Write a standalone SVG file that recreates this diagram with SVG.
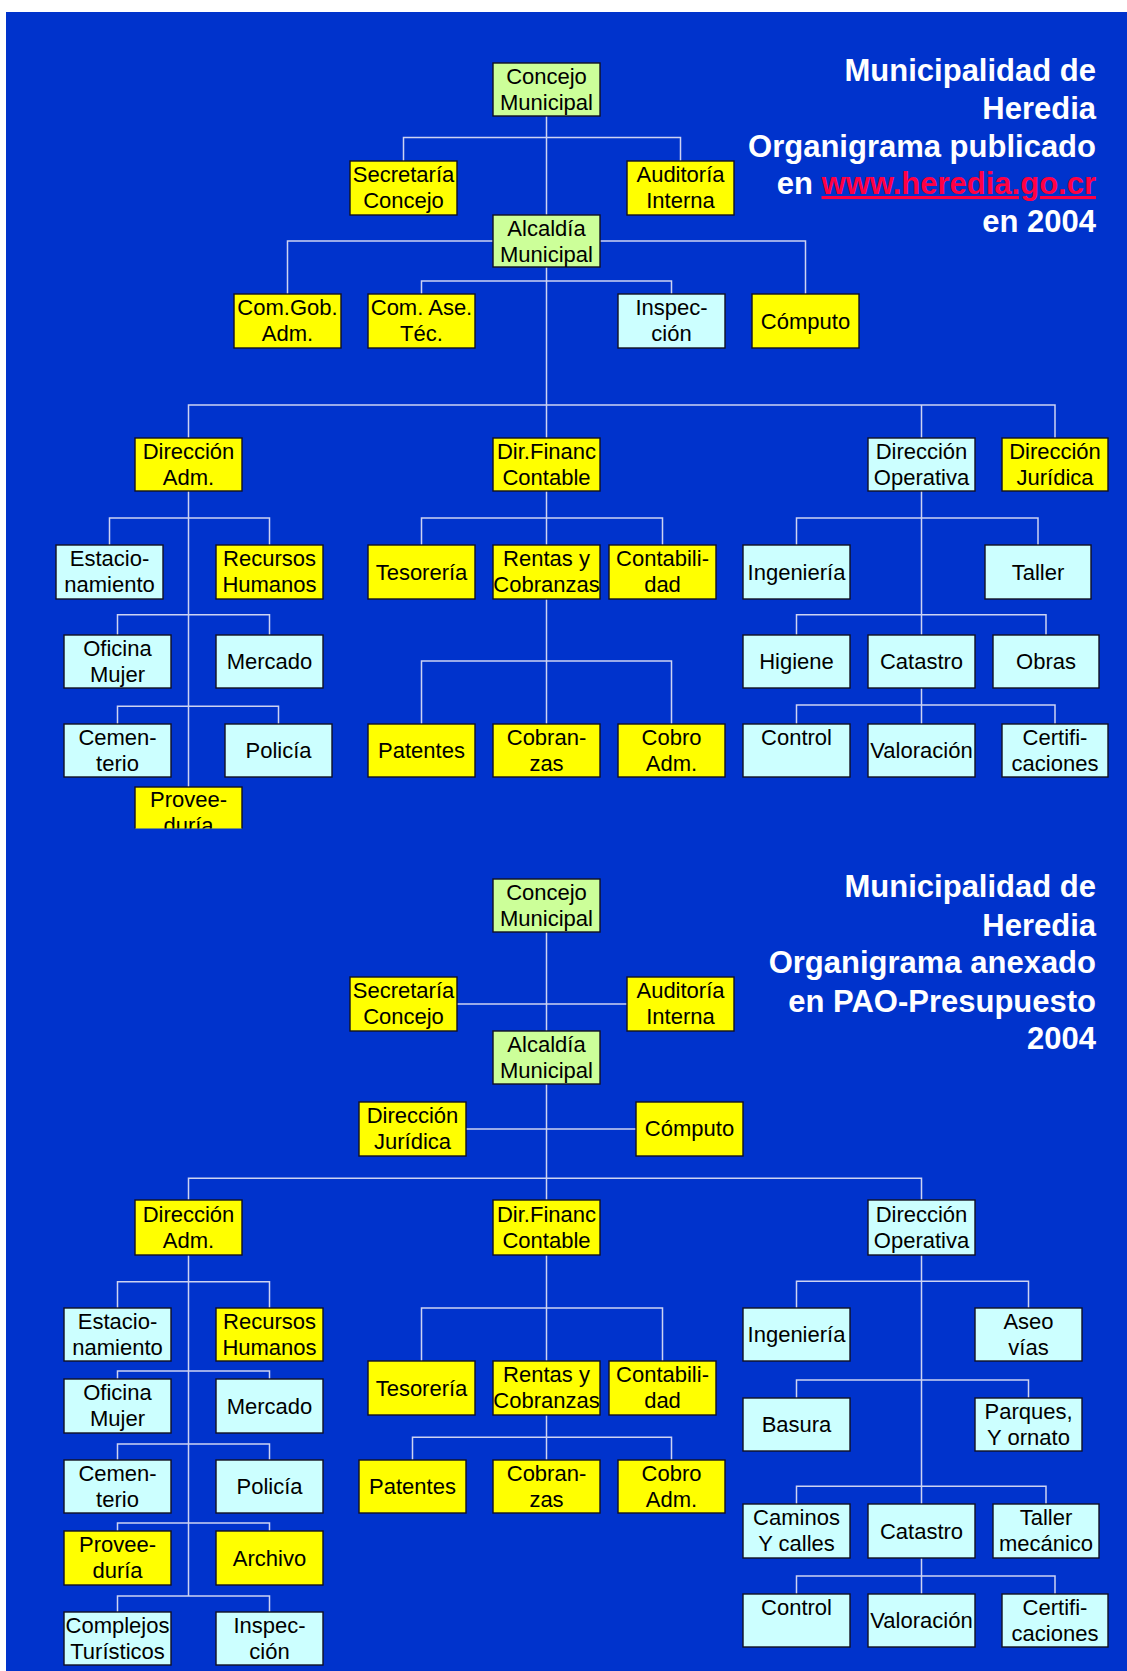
<svg xmlns="http://www.w3.org/2000/svg" width="1127" height="1671" viewBox="0 0 1127 1671">
<style>
.n rect{stroke:#111122;stroke-width:1.4}
.y rect{fill:#FFFF00}
.g rect{fill:#CCFF99}
.c rect{fill:#CCFFFF}
.n text{font-family:"Liberation Sans",Arial,sans-serif;font-size:22px;text-anchor:middle;fill:#000}
#connectors path{fill:none;stroke:#CDD3F2;stroke-width:1.5}
.title{font-family:"Liberation Sans",Arial,sans-serif;font-weight:bold;font-size:31px;text-anchor:end;fill:#FFFFFF}
</style>
<defs>
<clipPath id="clipProv"><rect x="0" y="0" width="1127" height="828.5"/></clipPath>
</defs>
<rect x="0" y="0" width="1127" height="1671" fill="#FFFFFF"/>
<rect x="6" y="12" width="1121" height="1659" fill="#0033CC"/>

<g id="connectors">
<!-- top chart -->
<path d="M546.5 116 V438"/>
<path d="M403.5 161 V137.5 H680.5 V161"/>
<path d="M287.5 294 V241 H805.5 V294"/>
<path d="M421.5 294 V281 H671.5 V294"/>
<path d="M188.5 438 V405 H1055 V438"/>
<path d="M921.5 405 V438"/>
<path d="M188.5 491 V787"/>
<path d="M109.5 545 V518 H269.5 V545"/>
<path d="M117.5 635 V614.7 H269.5 V635"/>
<path d="M117.5 724 V706.3 H278.5 V724"/>
<path d="M546.5 491 V724"/>
<path d="M421.5 545 V518 H662.5 V545"/>
<path d="M421.5 724 V661 H671.5 V724"/>
<path d="M921.5 491 V724"/>
<path d="M796.5 545 V518 H1038 V545"/>
<path d="M796.5 635 V614.7 H1046 V635"/>
<path d="M796.5 724 V705 H1055 V724"/>
<!-- bottom chart -->
<path d="M546.5 932 V1200"/>
<path d="M457 1004 H627"/>
<path d="M466 1129 H636"/>
<path d="M188.5 1200 V1178.3 H921.5 V1200"/>
<path d="M188.5 1255 V1596"/>
<path d="M117.5 1308 V1281.7 H269.5 V1308"/>
<path d="M117.5 1379 V1371 H269.5 V1379"/>
<path d="M117.5 1460 V1444 H269.5 V1460"/>
<path d="M117.5 1531 V1523 H269.5 V1531"/>
<path d="M117.5 1612 V1596 H269.5 V1612"/>
<path d="M546.5 1255 V1460"/>
<path d="M421.5 1361 V1308 H662.5 V1361"/>
<path d="M412.5 1460 V1437.3 H671.5 V1460"/>
<path d="M921.5 1255 V1594"/>
<path d="M796.5 1308 V1281.3 H1028.5 V1308"/>
<path d="M796.5 1398 V1380 H1028.5 V1398"/>
<path d="M796.5 1504 V1486.3 H1046 V1504"/>
<path d="M796.5 1594 V1576 H1055 V1594"/>
</g>

<!-- Titles -->
<g id="title1">
<text class="title" x="1096" y="81">Municipalidad de</text>
<text class="title" x="1096" y="119">Heredia</text>
<text class="title" x="1096" y="157">Organigrama publicado</text>
<text class="title" x="1096" y="194">en <tspan fill="#FF0044" text-decoration="underline">www.heredia.go.cr</tspan></text>
<text class="title" x="1096" y="232">en 2004</text>
</g>
<g id="title2">
<text class="title" x="1096" y="897">Municipalidad de</text>
<text class="title" x="1096" y="936">Heredia</text>
<text class="title" x="1096" y="973">Organigrama anexado</text>
<text class="title" x="1096" y="1012">en PAO-Presupuesto</text>
<text class="title" x="1096" y="1049">2004</text>
</g>

<!-- TOP CHART NODES -->
<g id="concejo1" class="n g"><rect x="493" y="63" width="107" height="53"/><text x="546.5" y="84">Concejo<tspan x="546.5" dy="26">Municipal</tspan></text></g>
<g id="secretaria1" class="n y"><rect x="350" y="161" width="107" height="54"/><text x="403.5" y="182">Secretaría<tspan x="403.5" dy="26">Concejo</tspan></text></g>
<g id="auditoria1" class="n y"><rect x="627" y="161" width="107" height="54"/><text x="680.5" y="182">Auditoría<tspan x="680.5" dy="26">Interna</tspan></text></g>
<g id="alcaldia1" class="n g"><rect x="493" y="215" width="107" height="52"/><text x="546.5" y="236">Alcaldía<tspan x="546.5" dy="26">Municipal</tspan></text></g>
<g id="comgob1" class="n y"><rect x="234" y="294" width="107" height="54"/><text x="287.5" y="315">Com.Gob.<tspan x="287.5" dy="26">Adm.</tspan></text></g>
<g id="comase1" class="n y"><rect x="368" y="294" width="107" height="54"/><text x="421.5" y="315">Com. Ase.<tspan x="421.5" dy="26">Téc.</tspan></text></g>
<g id="inspeccion1" class="n c"><rect x="618" y="294" width="107" height="54"/><text x="671.5" y="315">Inspec-<tspan x="671.5" dy="26">ción</tspan></text></g>
<g id="computo1" class="n y"><rect x="752" y="294" width="107" height="54"/><text x="805.5" y="328.5">Cómputo</text></g>

<g id="diradm1" class="n y"><rect x="135" y="438" width="107" height="53"/><text x="188.5" y="459">Dirección<tspan x="188.5" dy="26">Adm.</tspan></text></g>
<g id="dirfin1" class="n y"><rect x="493" y="438" width="107" height="53"/><text x="546.5" y="459">Dir.Financ<tspan x="546.5" dy="26">Contable</tspan></text></g>
<g id="dirop1" class="n c"><rect x="868" y="438" width="107" height="53"/><text x="921.5" y="459">Dirección<tspan x="921.5" dy="26">Operativa</tspan></text></g>
<g id="dirjur1" class="n y"><rect x="1002" y="438" width="106" height="53"/><text x="1055" y="459">Dirección<tspan x="1055" dy="26">Jurídica</tspan></text></g>

<g id="estac1" class="n c"><rect x="56" y="545" width="107" height="54"/><text x="109.5" y="566">Estacio-<tspan x="109.5" dy="26">namiento</tspan></text></g>
<g id="rrhh1" class="n y"><rect x="216" y="545" width="107" height="54"/><text x="269.5" y="566">Recursos<tspan x="269.5" dy="26">Humanos</tspan></text></g>
<g id="ofmujer1" class="n c"><rect x="64" y="635" width="107" height="53"/><text x="117.5" y="656">Oficina<tspan x="117.5" dy="26">Mujer</tspan></text></g>
<g id="mercado1" class="n c"><rect x="216" y="635" width="107" height="53"/><text x="269.5" y="669">Mercado</text></g>
<g id="cement1" class="n c"><rect x="64" y="724" width="107" height="53"/><text x="117.5" y="745">Cemen-<tspan x="117.5" dy="26">terio</tspan></text></g>
<g id="policia1" class="n c"><rect x="225" y="724" width="107" height="53"/><text x="278.5" y="758">Policía</text></g>
<g id="proveed1" class="n y" clip-path="url(#clipProv)"><rect x="135" y="787" width="107" height="53"/><text x="188.5" y="807">Provee-<tspan x="188.5" dy="26">duría</tspan></text></g>

<g id="tesoreria1" class="n y"><rect x="368" y="545" width="107" height="54"/><text x="421.5" y="579.5">Tesorería</text></g>
<g id="rentas1" class="n y"><rect x="493" y="545" width="107" height="54"/><text x="546.5" y="566">Rentas y<tspan x="546.5" dy="26">Cobranzas</tspan></text></g>
<g id="contab1" class="n y"><rect x="609" y="545" width="107" height="54"/><text x="662.5" y="566">Contabili-<tspan x="662.5" dy="26">dad</tspan></text></g>
<g id="patentes1" class="n y"><rect x="368" y="724" width="107" height="53"/><text x="421.5" y="758">Patentes</text></g>
<g id="cobranzas1" class="n y"><rect x="493" y="724" width="107" height="53"/><text x="546.5" y="745">Cobran-<tspan x="546.5" dy="26">zas</tspan></text></g>
<g id="cobroadm1" class="n y"><rect x="618" y="724" width="107" height="53"/><text x="671.5" y="745">Cobro<tspan x="671.5" dy="26">Adm.</tspan></text></g>

<g id="ingenieria1" class="n c"><rect x="743" y="545" width="107" height="54"/><text x="796.5" y="579.5">Ingeniería</text></g>
<g id="taller1" class="n c"><rect x="985" y="545" width="106" height="54"/><text x="1038" y="579.5">Taller</text></g>
<g id="higiene1" class="n c"><rect x="743" y="635" width="107" height="53"/><text x="796.5" y="669">Higiene</text></g>
<g id="catastro1" class="n c"><rect x="868" y="635" width="107" height="53"/><text x="921.5" y="669">Catastro</text></g>
<g id="obras1" class="n c"><rect x="993" y="635" width="106" height="53"/><text x="1046" y="669">Obras</text></g>
<g id="control1" class="n c"><rect x="743" y="724" width="107" height="53"/><text x="796.5" y="745">Control</text></g>
<g id="valoracion1" class="n c"><rect x="868" y="724" width="107" height="53"/><text x="921.5" y="758">Valoración</text></g>
<g id="certif1" class="n c"><rect x="1002" y="724" width="106" height="53"/><text x="1055" y="745">Certifi-<tspan x="1055" dy="26">caciones</tspan></text></g>

<!-- BOTTOM CHART NODES -->
<g id="concejo2" class="n g"><rect x="493" y="879" width="107" height="53"/><text x="546.5" y="900">Concejo<tspan x="546.5" dy="26">Municipal</tspan></text></g>
<g id="secretaria2" class="n y"><rect x="350" y="977" width="107" height="54"/><text x="403.5" y="998">Secretaría<tspan x="403.5" dy="26">Concejo</tspan></text></g>
<g id="auditoria2" class="n y"><rect x="627" y="977" width="107" height="54"/><text x="680.5" y="998">Auditoría<tspan x="680.5" dy="26">Interna</tspan></text></g>
<g id="alcaldia2" class="n g"><rect x="493" y="1031" width="107" height="53"/><text x="546.5" y="1052">Alcaldía<tspan x="546.5" dy="26">Municipal</tspan></text></g>
<g id="dirjur2" class="n y"><rect x="359" y="1102" width="107" height="54"/><text x="412.5" y="1123">Dirección<tspan x="412.5" dy="26">Jurídica</tspan></text></g>
<g id="computo2" class="n y"><rect x="636" y="1102" width="107" height="54"/><text x="689.5" y="1136">Cómputo</text></g>

<g id="diradm2" class="n y"><rect x="135" y="1200" width="107" height="55"/><text x="188.5" y="1222">Dirección<tspan x="188.5" dy="26">Adm.</tspan></text></g>
<g id="dirfin2" class="n y"><rect x="493" y="1200" width="107" height="55"/><text x="546.5" y="1222">Dir.Financ<tspan x="546.5" dy="26">Contable</tspan></text></g>
<g id="dirop2" class="n c"><rect x="868" y="1200" width="107" height="55"/><text x="921.5" y="1222">Dirección<tspan x="921.5" dy="26">Operativa</tspan></text></g>

<g id="estac2" class="n c"><rect x="64" y="1308" width="107" height="53"/><text x="117.5" y="1329">Estacio-<tspan x="117.5" dy="26">namiento</tspan></text></g>
<g id="rrhh2" class="n y"><rect x="216" y="1308" width="107" height="53"/><text x="269.5" y="1329">Recursos<tspan x="269.5" dy="26">Humanos</tspan></text></g>
<g id="ofmujer2" class="n c"><rect x="64" y="1379" width="107" height="54"/><text x="117.5" y="1400">Oficina<tspan x="117.5" dy="26">Mujer</tspan></text></g>
<g id="mercado2" class="n c"><rect x="216" y="1379" width="107" height="54"/><text x="269.5" y="1413.5">Mercado</text></g>
<g id="cement2" class="n c"><rect x="64" y="1460" width="107" height="53"/><text x="117.5" y="1481">Cemen-<tspan x="117.5" dy="26">terio</tspan></text></g>
<g id="policia2" class="n c"><rect x="216" y="1460" width="107" height="53"/><text x="269.5" y="1494">Policía</text></g>
<g id="proveed2" class="n y"><rect x="64" y="1531" width="107" height="54"/><text x="117.5" y="1552">Provee-<tspan x="117.5" dy="26">duría</tspan></text></g>
<g id="archivo2" class="n y"><rect x="216" y="1531" width="107" height="54"/><text x="269.5" y="1565.5">Archivo</text></g>
<g id="complejos2" class="n c"><rect x="64" y="1612" width="107" height="53"/><text x="117.5" y="1633">Complejos<tspan x="117.5" dy="26">Turísticos</tspan></text></g>
<g id="inspeccion2" class="n c"><rect x="216" y="1612" width="107" height="53"/><text x="269.5" y="1633">Inspec-<tspan x="269.5" dy="26">ción</tspan></text></g>

<g id="tesoreria2" class="n y"><rect x="368" y="1361" width="107" height="54"/><text x="421.5" y="1395.5">Tesorería</text></g>
<g id="rentas2" class="n y"><rect x="493" y="1361" width="107" height="54"/><text x="546.5" y="1382">Rentas y<tspan x="546.5" dy="26">Cobranzas</tspan></text></g>
<g id="contab2" class="n y"><rect x="609" y="1361" width="107" height="54"/><text x="662.5" y="1382">Contabili-<tspan x="662.5" dy="26">dad</tspan></text></g>
<g id="patentes2" class="n y"><rect x="359" y="1460" width="107" height="53"/><text x="412.5" y="1494">Patentes</text></g>
<g id="cobranzas2" class="n y"><rect x="493" y="1460" width="107" height="53"/><text x="546.5" y="1481">Cobran-<tspan x="546.5" dy="26">zas</tspan></text></g>
<g id="cobroadm2" class="n y"><rect x="618" y="1460" width="107" height="53"/><text x="671.5" y="1481">Cobro<tspan x="671.5" dy="26">Adm.</tspan></text></g>

<g id="ingenieria2" class="n c"><rect x="743" y="1308" width="107" height="53"/><text x="796.5" y="1342">Ingeniería</text></g>
<g id="aseo2" class="n c"><rect x="975" y="1308" width="107" height="53"/><text x="1028.5" y="1329">Aseo<tspan x="1028.5" dy="26">vías</tspan></text></g>
<g id="basura2" class="n c"><rect x="743" y="1398" width="107" height="53"/><text x="796.5" y="1432">Basura</text></g>
<g id="parques2" class="n c"><rect x="975" y="1398" width="107" height="53"/><text x="1028.5" y="1419">Parques,<tspan x="1028.5" dy="26">Y ornato</tspan></text></g>
<g id="caminos2" class="n c"><rect x="743" y="1504" width="107" height="54"/><text x="796.5" y="1525">Caminos<tspan x="796.5" dy="26">Y calles</tspan></text></g>
<g id="catastro2" class="n c"><rect x="868" y="1504" width="107" height="54"/><text x="921.5" y="1538.5">Catastro</text></g>
<g id="tallermec2" class="n c"><rect x="993" y="1504" width="106" height="54"/><text x="1046" y="1525">Taller<tspan x="1046" dy="26">mecánico</tspan></text></g>
<g id="control2" class="n c"><rect x="743" y="1594" width="107" height="53"/><text x="796.5" y="1615">Control</text></g>
<g id="valoracion2" class="n c"><rect x="868" y="1594" width="107" height="53"/><text x="921.5" y="1628">Valoración</text></g>
<g id="certif2" class="n c"><rect x="1002" y="1594" width="106" height="53"/><text x="1055" y="1615">Certifi-<tspan x="1055" dy="26">caciones</tspan></text></g>
</svg>
